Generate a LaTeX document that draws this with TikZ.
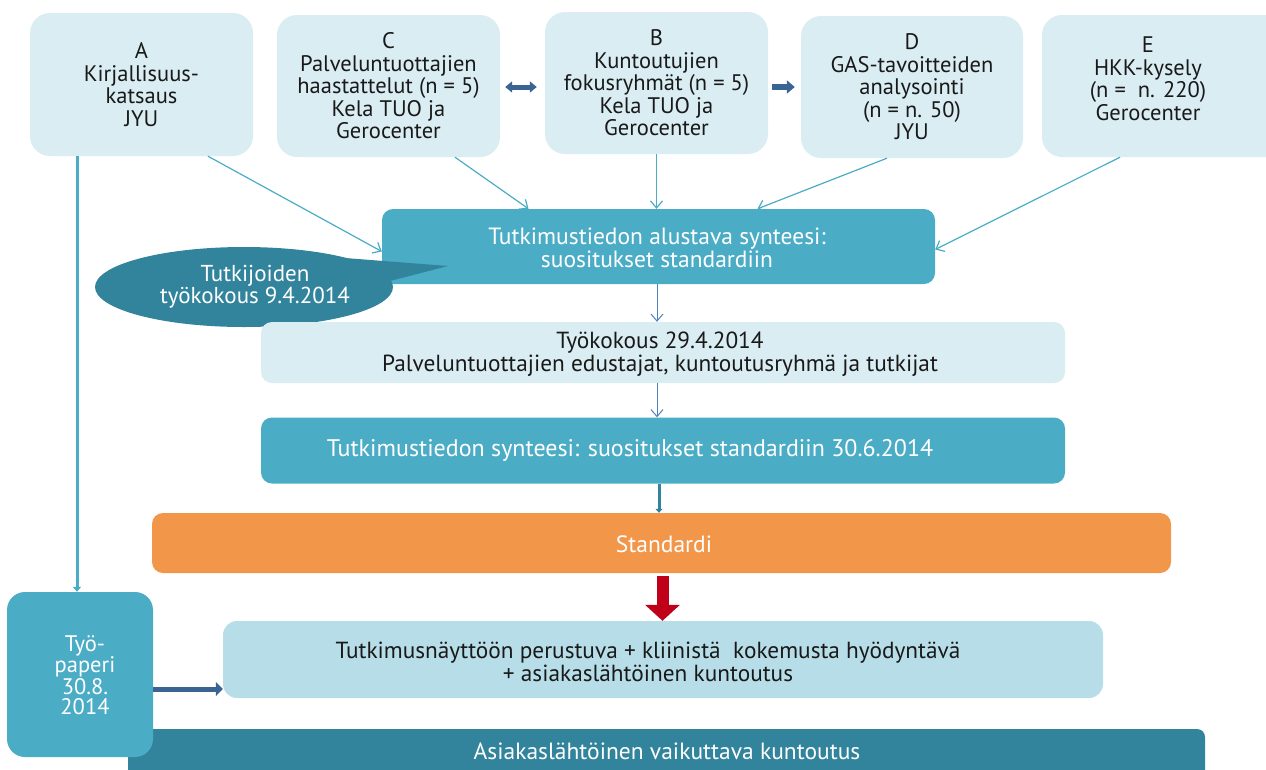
\documentclass[tikz,border=0pt]{standalone}
\usepackage{fontspec}
\setmainfont{PT Sans}
\usetikzlibrary{arrows.meta,shapes.geometric}
\definecolor{lightbox}{RGB}{218,237,243}
\definecolor{midbox}{RGB}{75,172,198}
\definecolor{darkteal}{RGB}{49,132,155}
\definecolor{orangebox}{RGB}{242,150,74}
\definecolor{botbox}{RGB}{183,222,232}
\definecolor{redarrow}{RGB}{192,0,24}
\definecolor{darkblue}{RGB}{58,100,148}
\definecolor{steel}{RGB}{79,129,189}
\definecolor{txt}{RGB}{25,25,25}
\begin{document}
\begin{tikzpicture}[x=1pt,y=-1pt,
  font=\fontsize{22.5}{22.5}\selectfont,
  topbox/.style={fill=lightbox, rounded corners=20pt, text=txt, align=center, inner sep=0pt},
  flatbox/.style={rounded corners=11pt, align=center, inner sep=0pt},
  thinarrow/.style={draw=midbox, line width=1.2pt, -{Straight Barb[length=7pt,width=12pt]}},
  steparrow/.style={draw=steel, line width=1pt, -{Straight Barb[length=7pt,width=12pt]}},
  fatarrow/.style={draw=darkblue, line width=6pt, -{Triangle[length=8pt 0 0,width=13pt 0 0]}},
  whitetext/.style={text=white, align=center, font=\fontsize{23.5}{23}\selectfont},
  darktext/.style={text=txt, align=center},
  widetext/.style={text=txt, align=center, font=\fontsize{23.3}{23}\selectfont}]
\useasboundingbox (0,0) rectangle (1266,769);

% top boxes
\node[topbox, minimum width=223pt, minimum height=143pt] (A) at (141.5,84.5) {A\\Kirjallisuus-\\katsaus\\JYU};
\node[topbox, minimum width=223pt, minimum height=142pt] (C) at (388.5,86) {C\\Palveluntuottajien\\haastattelut (n = 5)\\Kela TUO ja\\Gerocenter};
\node[topbox, minimum width=223pt, minimum height=142pt] (B) at (656.5,83) {B\\Kuntoutujien\\fokusryhmät (n = 5)\\Kela TUO ja\\Gerocenter};
\node[topbox, minimum width=222pt, minimum height=142pt] (D) at (912,87) {D\\GAS-tavoitteiden\\analysointi\\(n = n. 50)\\JYU};
\node[topbox, minimum width=246pt, minimum height=142pt] (E) at (1165,86) {};
\node[darktext] (Et) at (1148,79) {E\\HKK-kysely\\(n = \ n. 220)\\Gerocenter};

% arrows between top boxes
\draw[darkblue, line width=5pt, {Triangle[length=7pt 0 0,width=11pt 0 0]}-{Triangle[length=7pt 0 0,width=11pt 0 0]}] ([shift={(5,1)}]C.east) -- ([shift={(-8,4)}]B.west);
\draw[fatarrow] ([shift={(4,4)}]B.east) -- ([shift={(-6,0)}]D.west);

% preliminary synthesis
\node[flatbox, fill=midbox, minimum width=553pt, minimum height=75pt] (S1) at (658.5,246.5) {};
\node[whitetext] (S1t) at (657,248) {Tutkimustiedon alustava synteesi:\\suositukset standardiin};

% callout
\fill[darkteal] (345,258) -- (448,266) -- (390,281) -- cycle;
\node[ellipse, fill=darkteal, minimum width=298pt, minimum height=80pt, inner sep=0pt] (CO) at (244,287) {};
\node[whitetext, font=\fontsize{23}{21}\selectfont] (COt) at (255,287) {Tutkijoiden\\työkokous 9.4.2014};

% thin arrows to synthesis
\draw[thinarrow] ([xshift=66.5]A.south) -- ([yshift=-5]S1.west);
\draw[thinarrow] ([xshift=66.5]C.south) -- ([xshift=-130]S1.north);
\draw[thinarrow] (B.south) -- (B.south |- S1.north);
\draw[thinarrow] ([xshift=-25]D.south) -- ([xshift=99]S1.north);
\draw[thinarrow] ([xshift=-45]E.south) -- ([yshift=-3]S1.east);

% workshop
\node[flatbox, fill=lightbox, minimum width=804pt, minimum height=61pt] (W) at (663,352.5) {};
\node[widetext] (Wt) at (660,354) {Työkokous 29.4.2014\\Palveluntuottajien edustajat, kuntoutusryhmä ja tutkijat};
\draw[steparrow] ([xshift=-1.5]S1.south) -- ([xshift=-1.5]S1.south |- W.north);

% synthesis 2
\node[flatbox, fill=midbox, minimum width=804pt, minimum height=66pt] (S2) at (663,450.5) {};
\node[whitetext, font=\fontsize{24}{23}\selectfont] (S2t) at (630,450) {Tutkimustiedon synteesi: suositukset standardiin 30.6.2014};
\draw[steparrow] ([xshift=-6]W.south) -- ([xshift=-6]W.south |- S2.north);

% standard
\node[flatbox, fill=orangebox, minimum width=1019pt, minimum height=60pt] (Std) at (661.5,543) {};
\node[whitetext] (Stdt) at (664,544) {Standardi};
\draw[darkteal, line width=3pt, -{Triangle[length=4pt 0 0,width=7pt 0 0]}] ([xshift=-4]S2.south) -- ([xshift=-4]S2.south |- Std.north);

% evidence-based rehabilitation
\node[flatbox, fill=botbox, rounded corners=14pt, minimum width=880pt, minimum height=77pt] (Bot) at (663,659.5) {};
\node[widetext] (Bott) at (648,662) {Tutkimusnäyttöön perustuva + kliinistä \ kokemusta hyödyntävä\\+ asiakaslähtöinen kuntoutus};
\draw[redarrow, line width=12pt, -{Triangle[length=16pt 0 0,width=34pt 0 0]}] ([shift={(1,3)}]Std.south) -- ([xshift=1]Std.south |- Bot.north);

% bottom bar
\node[flatbox, fill=darkteal, rounded corners=8pt, minimum width=1077pt, minimum height=60pt] (Bar) at (666.5,759) {};
\node[whitetext] (Bart) at (667,751) {Asiakaslähtöinen vaikuttava kuntoutus};

% working paper
\node[flatbox, fill=midbox, rounded corners=18pt, minimum width=146pt, minimum height=165pt] (TP) at (80,674.5) {};
\node[whitetext, font=\fontsize{22.5}{20.5}\selectfont] (TPt) at (85,675) {Työ-\\paperi\\30.8.\\2014};
\draw[midbox, line width=3pt, -{Triangle[length=5pt 0 0,width=8pt 0 0]}] ([xshift=-64.5]A.south) -- ([xshift=-64.5]A.south |- TP.north);
\draw[darkblue, line width=5pt, -{Triangle[length=7pt 0 0,width=14pt 0 0]}] ([yshift=-14.5]TP.east) -- ([yshift=-14.5]TP.east -| Bot.west);
\end{tikzpicture}
\end{document}
